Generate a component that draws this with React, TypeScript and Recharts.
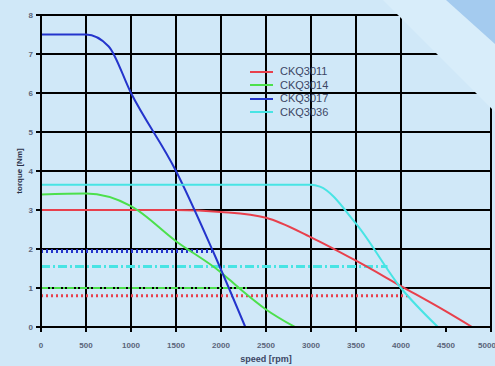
import { LineChart, Line, XAxis, YAxis, CartesianGrid } from 'recharts'

const X_TICKS = [0, 500, 1000, 1500, 2000, 2500, 3000, 3500, 4000, 4500, 5000]
const Y_TICKS = [0, 1, 2, 3, 4, 5, 6, 7, 8]

// solid torque curves
const RED_CURVE = [
  { x: 0, y: 3.0 },
  { x: 1000, y: 3.0 },
  { x: 1500, y: 3.0 },
  { x: 2000, y: 2.95 },
  { x: 2500, y: 2.8 },
  { x: 3000, y: 2.3 },
  { x: 3500, y: 1.7 },
  { x: 4000, y: 1.05 },
  { x: 4500, y: 0.4 },
  { x: 4790, y: 0 },
]
const GREEN_CURVE = [
  { x: 0, y: 3.4 },
  { x: 500, y: 3.42 },
  { x: 1000, y: 3.1 },
  { x: 1500, y: 2.2 },
  { x: 2000, y: 1.4 },
  { x: 2200, y: 1.0 },
  { x: 2500, y: 0.45 },
  { x: 2820, y: 0 },
]
const BLUE_CURVE = [
  { x: 0, y: 7.5 },
  { x: 500, y: 7.5 },
  { x: 750, y: 7.2 },
  { x: 1000, y: 6.0 },
  { x: 1500, y: 4.0 },
  { x: 1900, y: 2.0 },
  { x: 2270, y: 0 },
]
const CYAN_CURVE = [
  { x: 0, y: 3.65 },
  { x: 3000, y: 3.65 },
  { x: 3100, y: 3.6 },
  { x: 3500, y: 2.65 },
  { x: 4000, y: 1.0 },
  { x: 4410, y: 0 },
]

// rated (dotted / dash-dot) levels
const RED_RATED = [{ x: 0, y: 0.8 }, { x: 4100, y: 0.8 }]
const GREEN_RATED = [{ x: 0, y: 1.0 }, { x: 2300, y: 1.0 }]
const BLUE_RATED = [{ x: 0, y: 1.95 }, { x: 1900, y: 1.95 }]
const CYAN_RATED = [{ x: 0, y: 1.55 }, { x: 3850, y: 1.55 }]

const SERIES_NAMES = ['CKQ3011', 'CKQ3014', 'CKQ3017', 'CKQ3036']
const COLORS = ['#e8404c', '#4ce04c', '#2434cc', '#48e4e4']

const BG = '#d0e8f8'
const FONT = 'Arial, "Liberation Sans", sans-serif'

function LegendBox() {
  return (
    <div style={{ position: 'absolute', left: 250, top: 65, fontFamily: FONT, fontSize: 11, color: '#3c4664', lineHeight: '13.5px' }}>
      {SERIES_NAMES.map((name, i) => (
        <div key={name} style={{ display: 'flex', alignItems: 'center', height: 13.5 }}>
          <span style={{ width: 23, height: 2, background: COLORS[i], marginRight: 7 }} />
          <span>{name}</span>
        </div>
      ))}
    </div>
  )
}

export default function App() {
  const tickStyle = { fontSize: 8, fill: '#5a6478', fontFamily: FONT, fontWeight: 700 }
  return (
    <div style={{ position: 'absolute', left: 0, top: 0, width: 495, height: 366, background: BG, overflow: 'hidden' }}>
      <LineChart width={495} height={366} margin={{ top: 15, right: 4, left: 16, bottom: 9 }}>
        <CartesianGrid stroke="#000" strokeWidth={2} />
        <XAxis
          type="number"
          dataKey="x"
          domain={[0, 5000]}
          ticks={X_TICKS}
          height={30}
          stroke="#000"
          strokeWidth={2}
          tickSize={5}
          tickMargin={10}
          tick={tickStyle}
          label={{ value: 'speed [rpm]', position: 'insideBottom', offset: -5, style: { fontSize: 9, fill: '#3c4664', fontWeight: 700, fontFamily: FONT } }}
        />
        <YAxis
          type="number"
          domain={[0, 8]}
          ticks={Y_TICKS}
          width={25}
          stroke="#000"
          strokeWidth={2}
          tickSize={5}
          tickMargin={3}
          tick={tickStyle}
          label={{ value: 'torque [Nm]', angle: -90, position: 'insideLeft', offset: 3, style: { fontSize: 8, fill: '#2a3048', fontWeight: 700, textAnchor: 'middle', fontFamily: FONT } }}
        />
        <Line data={RED_RATED} dataKey="y" stroke={COLORS[0]} strokeWidth={3} strokeDasharray="2 3" dot={false} isAnimationActive={false} />
        <Line data={GREEN_RATED} dataKey="y" stroke={COLORS[1]} strokeWidth={2} strokeDasharray="7 2 2 2" dot={false} isAnimationActive={false} />
        <Line data={BLUE_RATED} dataKey="y" stroke={COLORS[2]} strokeWidth={4} strokeDasharray="2 3" dot={false} isAnimationActive={false} />
        <Line data={CYAN_RATED} dataKey="y" stroke={COLORS[3]} strokeWidth={3} strokeDasharray="9 3 2 3" dot={false} isAnimationActive={false} />
        <Line data={RED_CURVE} dataKey="y" type="monotone" stroke={COLORS[0]} strokeWidth={2} dot={false} isAnimationActive={false} />
        <Line data={GREEN_CURVE} dataKey="y" type="monotone" stroke={COLORS[1]} strokeWidth={2} dot={false} isAnimationActive={false} />
        <Line data={BLUE_CURVE} dataKey="y" type="monotone" stroke={COLORS[2]} strokeWidth={2} dot={false} isAnimationActive={false} />
        <Line data={CYAN_CURVE} dataKey="y" type="monotone" stroke={COLORS[3]} strokeWidth={2} dot={false} isAnimationActive={false} />
      </LineChart>
      <LegendBox />
      <svg width={495} height={366} style={{ position: 'absolute', left: 0, top: 0, pointerEvents: 'none' }}>
        <polygon points="383,0 495,0 495,112" fill="#d8edfa" />
        <polygon points="446,0 495,0 495,44" fill="#a4cbef" />
      </svg>
    </div>
  )
}
